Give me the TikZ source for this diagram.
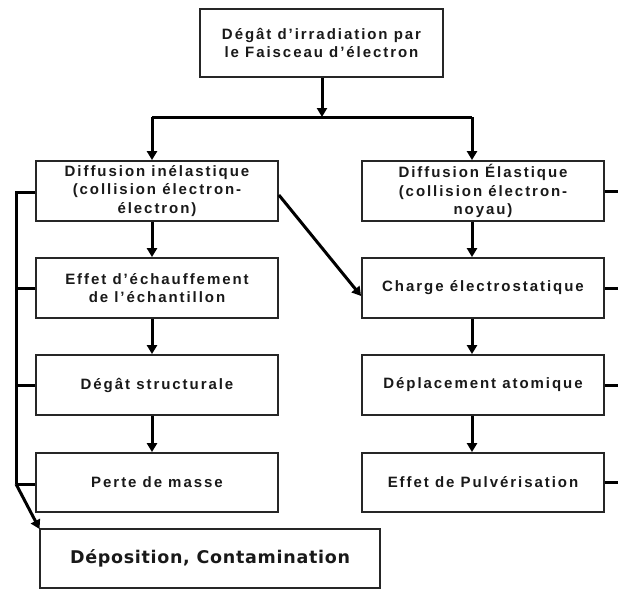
\documentclass[tikz,border=0pt]{standalone}
\usepackage{fontspec}
\setmainfont{Liberation Sans}
\newfontfamily\depfont{DejaVu Sans}
\usetikzlibrary{arrows.meta}
\begin{document}
\begin{tikzpicture}[x=1pt,y=-1pt,
  box/.style={draw=black!85,line width=1.8pt,fill=white,align=center,inner sep=2pt,
    text=black!90,font=\fontsize{15}{18.5}\selectfont\bfseries\addfontfeature{LetterSpace=13}},
  conn/.style={line width=3pt,black},
  arr/.style={conn,-{Triangle[length=9pt,width=10pt]}}]
\useasboundingbox (0,0) rectangle (618,590);
\node[box,minimum width=243pt,minimum height=68pt] (top) at (321.5,43) {Dégât d’irradiation par\\le Faisceau d’électron};
\node[box,minimum width=242pt,minimum height=60pt] (l1) at (157,191) {Diffusion inélastique\\(collision électron-\\électron)};
\node[box,minimum width=242pt,minimum height=60pt] (l2) at (157,288) {Effet d’échauffement\\de l’échantillon};
\node[box,minimum width=242pt,minimum height=60pt] (l3) at (157,385) {Dégât structurale};
\node[box,minimum width=242pt,minimum height=59pt] (l4) at (157,482.5) {Perte de masse};
\node[box,minimum width=242pt,minimum height=60pt] (r1) at (483,191) {Diffusion Élastique\\(collision électron-\\noyau)};
\node[box,minimum width=242pt,minimum height=60pt] (r2) at (483,288) {Charge électrostatique};
\node[box,minimum width=242pt,minimum height=60pt] (r3) at (483,385) {Déplacement atomique};
\node[box,minimum width=242pt,minimum height=59pt] (r4) at (483,482.5) {Effet de Pulvérisation};
\node[box,minimum width=340pt,minimum height=59pt,font=\depfont\fontsize{17.5}{18}\selectfont\bfseries\addfontfeature{LetterSpace=4}] (dep) at (210,558.5) {Déposition, Contamination};
% top split
\coordinate (j) at (322,117);
\coordinate (jl) at (152,117);
\coordinate (jr) at (472,117);
\draw[arr] (top.south -| j) -- (j);
\draw[conn] (jl) -- (jr);
\draw[arr] (jl) -- (jl |- l1.north);
\draw[arr] (jr) -- (jr |- r1.north);
% columns
\draw[arr] ([xshift=-5pt]l1.south) -- ([xshift=-5pt]l2.north);
\draw[arr] ([xshift=-5pt]l2.south) -- ([xshift=-5pt]l3.north);
\draw[arr] ([xshift=-5pt]l3.south) -- ([xshift=-5pt]l4.north);
\draw[arr] ([xshift=-11pt]r1.south) -- ([xshift=-11pt]r2.north);
\draw[arr] ([xshift=-11pt]r2.south) -- ([xshift=-11pt]r3.north);
\draw[arr] ([xshift=-11pt]r3.south) -- ([xshift=-11pt]r4.north);
% diagonal
\draw[arr] ([yshift=-4pt]l1.east) -- ([yshift=-8pt]r2.west);
% left bus
\coordinate (b1) at (16,192);
\coordinate (b4) at (16,484);
\draw[conn] (l1.west |- b1) -- (b1) -- (b4);
\draw[conn] (l2.west) -- (l2.west -| b1);
\draw[conn] (l3.west) -- (l3.west -| b1);
\draw[conn] (l4.west |- b4) -- (b4);
\draw[arr,shorten >=-1pt] (b4) -- (dep.north west);
% right stubs
\coordinate (edge) at (618,0);
\draw[conn] (r1.east) -- (r1.east -| edge);
\draw[conn] (r2.east) -- (r2.east -| edge);
\draw[conn] (r3.east) -- (r3.east -| edge);
\draw[conn] (r4.east) -- (r4.east -| edge);
\end{tikzpicture}
\end{document}
